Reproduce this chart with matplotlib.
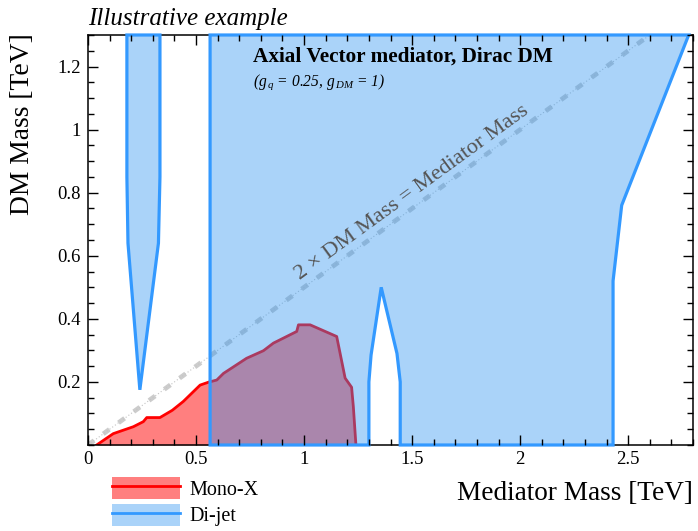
import matplotlib
matplotlib.use('Agg')
import matplotlib.pyplot as plt
from matplotlib.patches import Polygon, Patch
from matplotlib.lines import Line2D
from matplotlib.ticker import MultipleLocator, FuncFormatter

plt.rcParams['font.family'] = ['Liberation Serif', 'DejaVu Serif']
plt.rcParams['mathtext.fontset'] = 'custom'
plt.rcParams['mathtext.rm'] = 'Liberation Serif'
plt.rcParams['mathtext.it'] = 'Liberation Serif:italic'

# Mono-X upper boundary
monox_x = [0.04, 0.117, 0.21, 0.256, 0.272, 0.333, 0.390, 0.441, 0.519, 0.557, 0.596,
           0.627, 0.734, 0.812, 0.858, 0.966, 0.974, 1.028, 1.151, 1.19, 1.22, 1.228, 1.24]
monox_y = [0.0, 0.036, 0.058, 0.074, 0.087, 0.087, 0.110, 0.138, 0.190, 0.199, 0.206,
           0.227, 0.275, 0.299, 0.323, 0.360, 0.381, 0.381, 0.344, 0.212, 0.183, 0.122, 0.0]

# Di-jet excluded regions
dijet_left_x = [0.18, 0.18, 0.185, 0.24, 0.326, 0.333, 0.333]
dijet_left_y = [1.3, 0.85, 0.64, 0.175, 0.64, 0.85, 1.3]
dijet_main_x = [0.565, 0.565, 2.78, 2.47, 2.43, 2.43, 1.445, 1.445, 1.43, 1.357, 1.31, 1.30, 1.30]
dijet_main_y = [0.0, 1.3, 1.3, 0.76, 0.52, 0.0, 0.0, 0.20, 0.29, 0.50, 0.285, 0.20, 0.0]

# 2 x DM mass = mediator mass
diag_x = [0.0, 2.6]
diag_y = [0.0, 1.3]

x_ticks = [0, 0.5, 1, 1.5, 2, 2.5]
y_ticks = [0.2, 0.4, 0.6, 0.8, 1.0, 1.2]

W, H = 698, 531
fig = plt.figure(figsize=(W / 100, H / 100), dpi=100)
ax = fig.add_axes([88 / W, 1 - 445 / H, (693 - 88) / W, (445 - 35) / H])
ax.set_xlim(0, 2.8)
ax.set_ylim(0, 1.3)

ax.plot(diag_x, diag_y, color='#cccccc', lw=3.4, ls=(0, (1.6, 2.4)), zorder=1,
        dash_capstyle='butt')
ax.plot(diag_x, diag_y, color='#c4c4c4', lw=0.8, ls=(0, (1, 2)), zorder=1.1)

ax.fill_between(monox_x, 0, monox_y, color=(1, 0, 0, 0.5), lw=0, zorder=1.5)
ax.plot(monox_x, monox_y, color='red', lw=2, zorder=1.6, solid_joinstyle='round')

blue_fill = '#2b93f2'
blue_edge = '#3399ff'
for xs, ys in [(dijet_left_x, dijet_left_y), (dijet_main_x, dijet_main_y)]:
    pts = list(zip(xs, ys))
    ax.add_patch(Polygon(pts, closed=True, facecolor=blue_fill, alpha=0.4,
                         edgecolor='none', zorder=2, clip_on=False))
    ax.add_patch(Polygon(pts, closed=True, fill=False, edgecolor=blue_edge, lw=2.3,
                         zorder=2.7, clip_on=False, joinstyle='miter'))

ax.set_xticks(x_ticks)
ax.xaxis.set_minor_locator(MultipleLocator(0.1))
ax.set_yticks(y_ticks)
ax.yaxis.set_minor_locator(MultipleLocator(0.05))
fmt = FuncFormatter(lambda v, p: '%g' % v)
ax.xaxis.set_major_formatter(fmt)
ax.yaxis.set_major_formatter(fmt)
ax.tick_params(which='both', direction='in', top=True, right=True, width=1,
               labelsize=13.5, colors='black')
ax.tick_params(which='major', length=7)
ax.tick_params(which='minor', length=4)
ax.tick_params(axis='x', pad=4)
ax.tick_params(axis='y', pad=5)
ax.xaxis.set_zorder(4)
ax.yaxis.set_zorder(4)
for s in ax.spines.values():
    s.set_linewidth(1.1)

ax.text(0.764, 1.232, 'Axial Vector mediator, Dirac DM', fontsize=15.3,
        fontweight='bold', ha='left', va='center', zorder=5)
ax.text(0.764, 1.150, r'($g_{\,q}$ = 0.25, $g_{\,DM}$ = 1)', fontsize=11.2,
        style='italic', ha='left', va='center', zorder=5)
ax.text(1.5, 0.80, '2 × DM Mass = Mediator Mass', fontsize=16.2, color='#555555',
        rotation=36.1, rotation_mode='anchor', ha='center', va='center', zorder=5)

fig.text(88 / W, 1 - 25 / H, 'Illustrative example', fontsize=18, style='italic',
         ha='left', va='baseline')
fig.text(23 / W, 1 - 33 / H, 'DM Mass [TeV]', fontsize=19.8, rotation=90,
         ha='center', va='top')
fig.text(693 / W, 1 - 494 / H, 'Mediator Mass [TeV]', fontsize=19.6,
         ha='right', va='center')

handles = [(Patch(facecolor=(1, 0, 0, 0.5), edgecolor='none'), Line2D([], [], color='red', lw=2)),
           (Patch(facecolor=blue_fill, alpha=0.4, edgecolor='none'), Line2D([], [], color=blue_edge, lw=2))]
fig.legend(handles, ['Mono-X', 'Di-jet'], loc='upper left',
           bbox_to_anchor=(112 / W, 1 - 477 / H), frameon=False, borderpad=0,
           borderaxespad=0, handlelength=3.4, handleheight=1.3, handletextpad=0.45,
           labelspacing=0.2, fontsize=14.5)

fig.savefig('out.png', dpi=100)
